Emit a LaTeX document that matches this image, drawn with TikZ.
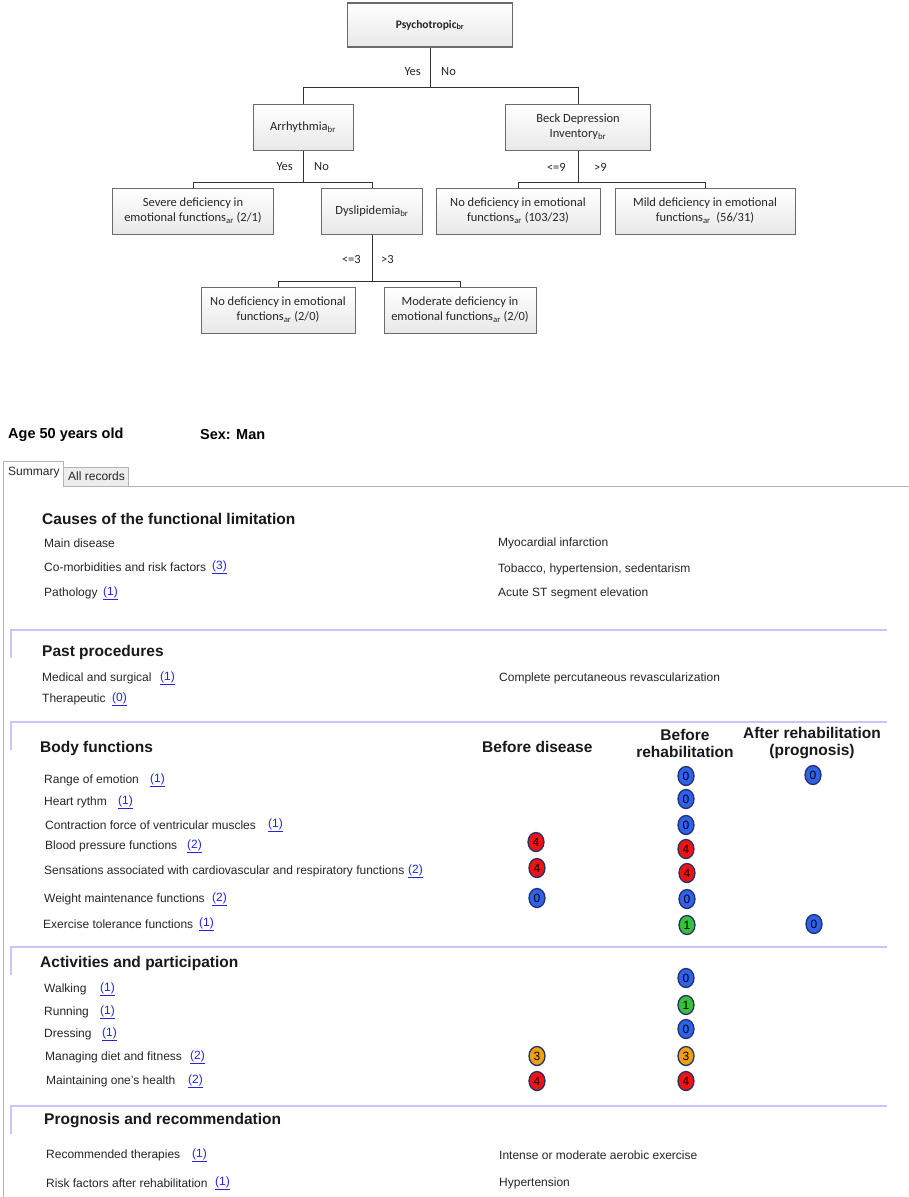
\documentclass[tikz,border=0pt]{standalone}
\usepackage{fontspec}
\setmainfont{Liberation Sans}
\newfontfamily\calib{Carlito}
\usetikzlibrary{shapes.geometric}
\definecolor{lav}{HTML}{C6C6F7}
\definecolor{tabline}{HTML}{B4B4BC}
\definecolor{linkblue}{HTML}{2424E0}
\definecolor{badgeline}{HTML}{22306A}
\definecolor{bblue}{HTML}{2F62EA}
\definecolor{bred}{HTML}{F21212}
\definecolor{bgreen}{HTML}{38C038}
\definecolor{borange}{HTML}{F0A010}
\newcommand\lnkn[1]{\underline{(#1)}}
\begin{document}
\begin{tikzpicture}[x=1pt,y=-1pt,
  tbox/.style={draw=black!58, line width=1pt, top color=white, bottom color=black!9, align=center, inner sep=2pt, font=\calib\fontsize{12.5}{15}\selectfont, text=black!85},
  tlab/.style={font=\calib\fontsize{12.5}{15}\selectfont, inner sep=0, text=black!85},
  edge/.style={draw=black!80, line width=0.7pt},
  row/.style={anchor=west, inner sep=0, font=\fontsize{12}{14}\selectfont, text=black!85},
  lnk/.style={anchor=west, inner sep=0, font=\fontsize{12}{14}\selectfont, text=linkblue},
  head/.style={anchor=west, inner sep=0, font=\bfseries\fontsize{15.5}{17}\selectfont, text=black!90},
  colhead/.style={align=center, inner sep=0, font=\bfseries\fontsize{15.5}{17}\selectfont, text=black!90},
  badge/.style={ellipse, minimum width=16pt, minimum height=19pt, inner sep=0, draw=badgeline, line width=1.3pt, fill=#1, font=\fontsize{12}{12}\selectfont, text=black},
  sec/.style={draw=lav, line width=1.6pt},
  tabl/.style={draw=tabline, line width=1pt},
]
\useasboundingbox (0,0) rectangle (909,1197);
\fill[white] (0,0) rectangle (909,1197);

% ---------------- decision tree ----------------
\node[tbox, line width=1.6pt, minimum width=165pt, minimum height=44pt, font=\calib\bfseries\fontsize{11.5}{14}\selectfont] (psy) at (430,25) {Psychotropic\textsubscript{br}};
\node[tbox, minimum width=100pt, minimum height=46pt] (arr) at (303,127) {Arrhythmia\textsubscript{br}};
\node[tbox, minimum width=145pt, minimum height=46pt] (beck) at (578,127) {Beck Depression\\Inventory\textsubscript{br}};
\node[tbox, minimum width=161pt, minimum height=46pt] (sev) at (193,211) {Severe deficiency in\\emotional functions\textsubscript{ar} (2/1)};
\node[tbox, minimum width=101pt, minimum height=46pt] (dys) at (372,211) {Dyslipidemia\textsubscript{br}};
\node[tbox, minimum width=164pt, minimum height=46pt] (nod) at (518,211) {No deficiency in emotional\\functions\textsubscript{ar} (103/23)};
\node[tbox, minimum width=180pt, minimum height=46pt] (mild) at (705,211) {Mild deficiency in emotional\\functions\textsubscript{ar}\ \ (56/31)};
\node[tbox, minimum width=154pt, minimum height=46pt] (nod2) at (278,310) {No deficiency in emotional\\functions\textsubscript{ar} (2/0)};
\node[tbox, minimum width=152pt, minimum height=46pt] (mod) at (460,310) {Moderate deficiency in\\emotional functions\textsubscript{ar} (2/0)};

\draw[edge] (psy.south) -- ++(0,40) coordinate (j1);
\draw[edge] (j1) -| (arr.north);
\draw[edge] (j1) -| (beck.north);
\draw[edge] (arr.south) -- ++(0,32) coordinate (j2);
\draw[edge] (j2) -| (sev.north);
\draw[edge] (j2) -| (dys.north);
\draw[edge] (beck.south) -- ++(0,32) coordinate (j3);
\draw[edge] (j3) -| (nod.north);
\draw[edge] (j3) -| (mild.north);
\draw[edge] (dys.south) -- ++(0,47) coordinate (j4);
\draw[edge] (j4) -| (nod2.north);
\draw[edge] (j4) -| (mod.north);

\node[tlab, anchor=east] (y1) at (421,72) {Yes};
\node[tlab, anchor=west] (n1) at (441,72) {No};
\node[tlab, anchor=east] (y2) at (293,167) {Yes};
\node[tlab, anchor=west] (n2) at (314,167) {No};
\node[tlab, anchor=east] (y3) at (566,167) {<=9};
\node[tlab, anchor=west] (n3) at (594,167) {>9};
\node[tlab, anchor=east] (y4) at (361,259) {<=3};
\node[tlab, anchor=west] (n4) at (381,259) {>3};

% ---------------- patient record screen ----------------
\node[anchor=west, inner sep=0, font=\bfseries\fontsize{14.5}{16}\selectfont] (age) at (8,435) {Age 50 years old};
\node[anchor=west, inner sep=0, font=\bfseries\fontsize{14.5}{16}\selectfont] (sex) at (200,435) {Sex: Man};

\fill[black!7] (63,467) rectangle (128,486);
\draw[tabl] (3,1197) -- (3,461) -- (63,461) -- (63,486) -- (909,486);
\draw[tabl] (63,467) -- (128,467) -- (128,486);
\node[row] (tab1) at (8,473) {Summary};
\node[row] (tab2) at (68,476) {All records};

% Causes
\node[head] (h1) at (42,519) {Causes of the functional limitation};
\node[row] (c1) at (44,543) {Main disease};
\node[row] (c1v) at (498,543) {Myocardial infarction};
\node[row] (c2) at (44,567) {Co-morbidities and risk factors};
\node[lnk] (c2l) at (212,567) {\lnkn{3}};
\node[row] (c2v) at (498,569) {Tobacco, hypertension, sedentarism};
\node[row] (c3) at (44,593) {Pathology};
\node[lnk] (c3l) at (103,593) {\lnkn{1}};
\node[row] (c3v) at (498,593) {Acute ST segment elevation};

% Past procedures
\draw[sec] (11,658) -- (11,630) -- (887,630);
\node[head] (h2) at (42,652) {Past procedures};
\node[row] (p1) at (42,678) {Medical and surgical};
\node[lnk] (p1l) at (160,678) {\lnkn{1}};
\node[row] (p1v) at (499,678) {Complete percutaneous revascularization};
\node[row] (p2) at (42,699) {Therapeutic};
\node[lnk] (p2l) at (112,699) {\lnkn{0}};

% Body functions
\draw[sec] (11,750) -- (11,722) -- (887,722);
\node[head] (h3) at (40,748) {Body functions};
\node[colhead, anchor=west] (ch1) at (482,747) {Before disease};
\node[colhead] (ch2) at (685,743) {Before\\rehabilitation};
\node[colhead] (ch3) at (812,743) {After rehabilitation\\(prognosis)};

\node[row] (b1) at (44,780) {Range of emotion};
\node[lnk] (b1l) at (150,780) {\lnkn{1}};
\node[row] (b2) at (44,802) {Heart rythm};
\node[lnk] (b2l) at (118,802) {\lnkn{1}};
\node[row] (b3) at (45,825) {Contraction force of ventricular muscles};
\node[lnk] (b3l) at (268,825) {\lnkn{1}};
\node[row] (b4) at (45,846) {Blood pressure functions};
\node[lnk] (b4l) at (187,846) {\lnkn{2}};
\node[row] (b5) at (44,871) {Sensations associated with cardiovascular and respiratory functions};
\node[lnk] (b5l) at (408,871) {\lnkn{2}};
\node[row] (b6) at (44,899) {Weight maintenance functions};
\node[lnk] (b6l) at (212,899) {\lnkn{2}};
\node[row] (b7) at (43,924) {Exercise tolerance functions};
\node[lnk] (b7l) at (199,924) {\lnkn{1}};

\node[badge=bblue] (g1b) at (686,776) {0};
\node[badge=bblue] (g1c) at (813,775) {0};
\node[badge=bblue] (g2b) at (686,799) {0};
\node[badge=bblue] (g3b) at (686,825) {0};
\node[badge=bred] (g4a) at (536,842) {4};
\node[badge=bred] (g4b) at (686,849) {4};
\node[badge=bred] (g5a) at (537,868) {4};
\node[badge=bred] (g5b) at (687,873) {4};
\node[badge=bblue] (g6a) at (537,898) {0};
\node[badge=bblue] (g6b) at (687,899) {0};
\node[badge=bgreen] (g7b) at (687,925) {1};
\node[badge=bblue] (g7c) at (814,924) {0};

% Activities and participation
\draw[sec] (11,975) -- (11,947) -- (887,947);
\node[head] (h4) at (40,963) {Activities and participation};
\node[row] (a1) at (44,989) {Walking};
\node[lnk] (a1l) at (100,989) {\lnkn{1}};
\node[row] (a2) at (44,1012) {Running};
\node[lnk] (a2l) at (100,1012) {\lnkn{1}};
\node[row] (a3) at (44,1034) {Dressing};
\node[lnk] (a3l) at (102,1034) {\lnkn{1}};
\node[row] (a4) at (45,1057) {Managing diet and fitness};
\node[lnk] (a4l) at (190,1057) {\lnkn{2}};
\node[row] (a5) at (46,1081) {Maintaining one's health};
\node[lnk] (a5l) at (188,1081) {\lnkn{2}};

\node[badge=bblue] (k1b) at (686,978) {0};
\node[badge=bgreen] (k2b) at (686,1005) {1};
\node[badge=bblue] (k3b) at (686,1029) {0};
\node[badge=borange] (k4a) at (537,1056) {3};
\node[badge=borange] (k4b) at (686,1056) {3};
\node[badge=bred] (k5a) at (537,1081) {4};
\node[badge=bred] (k5b) at (686,1081) {4};

% Prognosis and recommendation
\draw[sec] (11,1134) -- (11,1106) -- (887,1106);
\node[head] (h5) at (44,1121) {Prognosis and recommendation};
\node[row] (r1) at (46,1155) {Recommended therapies};
\node[lnk] (r1l) at (192,1155) {\lnkn{1}};
\node[row] (r1v) at (499,1155) {Intense or moderate aerobic exercise};
\node[row] (r2) at (46,1183) {Risk factors after rehabilitation};
\node[lnk] (r2l) at (215,1183) {\lnkn{1}};
\node[row] (r2v) at (499,1183) {Hypertension};
\end{tikzpicture}
\end{document}
